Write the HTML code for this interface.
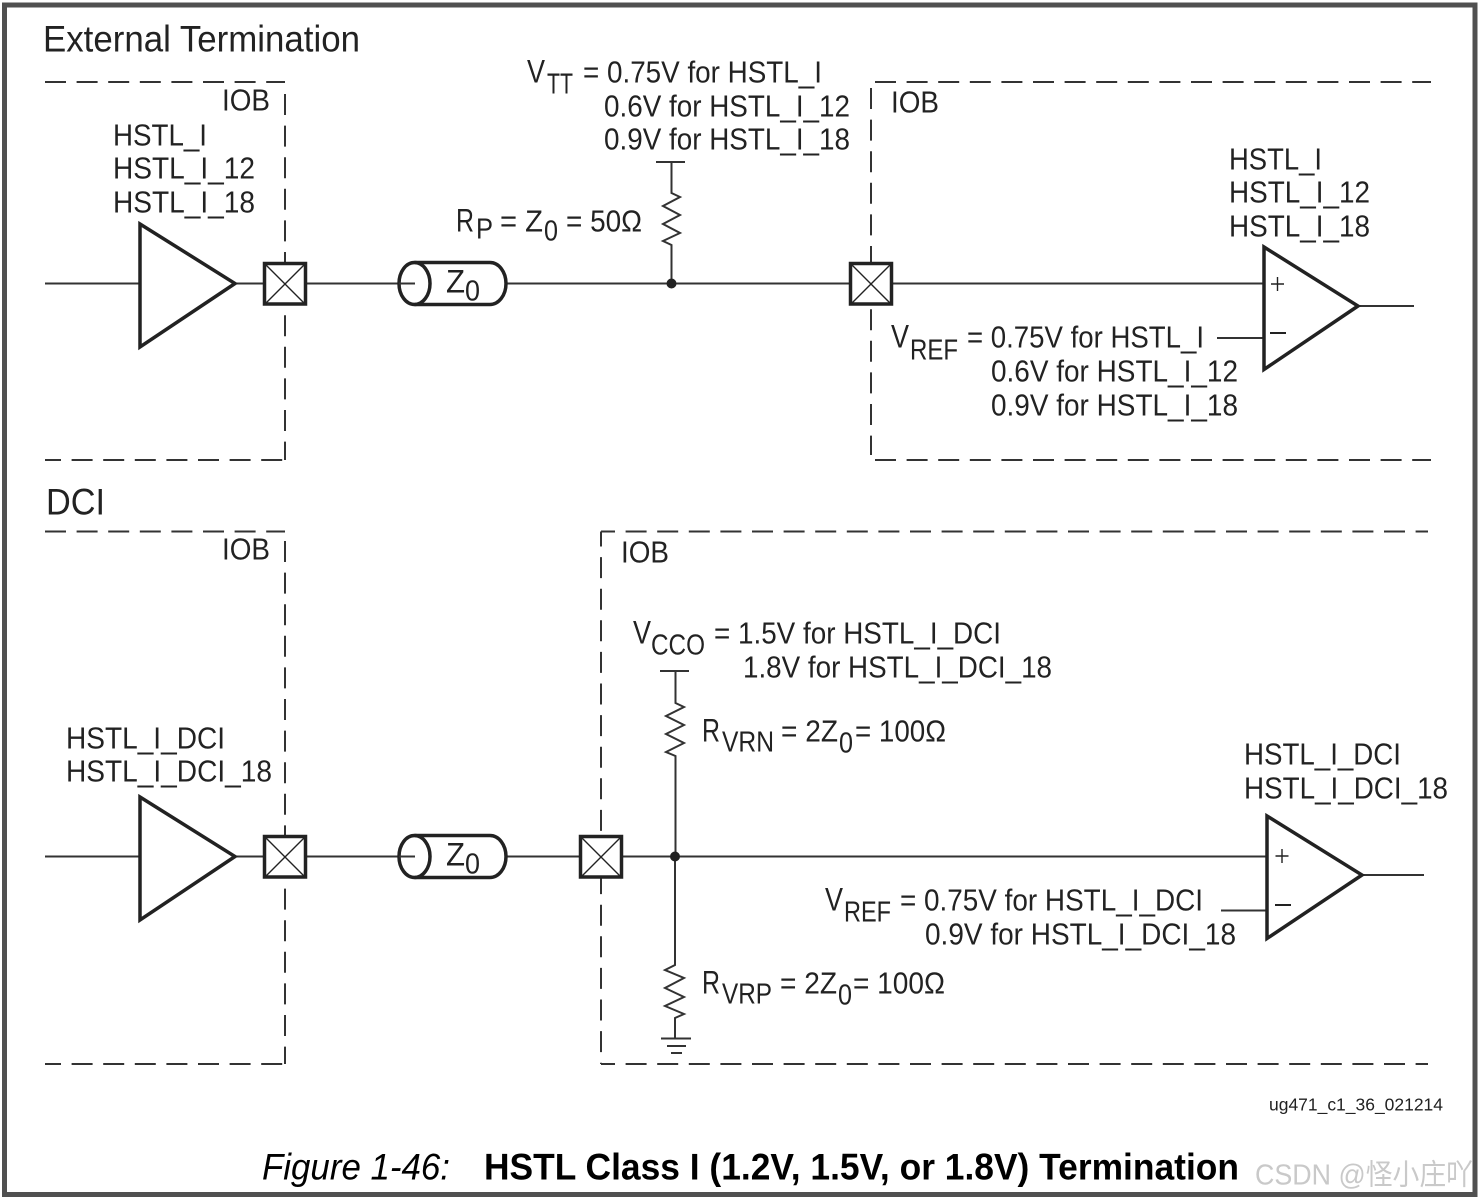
<!DOCTYPE html>
<html>
<head>
<meta charset="utf-8">
<style>
html,body{margin:0;padding:0;background:#fff;width:1480px;height:1200px;overflow:hidden}
svg{display:block}
text{font-family:"Liberation Sans","Noto Sans CJK SC",sans-serif;fill:#222;font-size:30.5px}
.s{font-size:28.5px}
.b2{font-size:32px}
.h{font-size:37.5px}
.w{fill:none;stroke:#333;stroke-width:2}
.t{fill:none;stroke:#222;stroke-width:3.5;stroke-linejoin:miter}
.d{fill:none;stroke:#333;stroke-width:2;stroke-dasharray:21 10.6}
.x{fill:none;stroke:#222;stroke-width:1.4}
.b{fill:#fff;stroke:#222;stroke-width:3.5}
</style>
</head>
<body>
<svg width="1480" height="1200" viewBox="0 0 1480 1200" xmlns="http://www.w3.org/2000/svg">
<rect x="4.500" y="5" width="1470.500" height="1189.500" fill="#fff" stroke="#505050" stroke-width="5"/>

<!-- Dashed boxes -->
<path class="d" d="M45 82H285"/>
<path class="d" d="M285 94V460"/>
<path class="d" d="M45 460H285" style="stroke-dashoffset:5"/>
<path class="d" d="M875 82H1431"/>
<path class="d" d="M871 88V455"/>
<path class="d" d="M875 460H1431"/>
<path class="d" d="M45 531.500H285"/>
<path class="d" d="M285 541V1064"/>
<path class="d" d="M45 1064H285" style="stroke-dashoffset:5"/>
<path class="d" d="M601 531.500H1428" style="stroke-dashoffset:7"/>
<path class="d" d="M601 531.500V1064" style="stroke-dashoffset:6"/>
<path class="d" d="M601 1064H1428" style="stroke-dashoffset:7"/>

<!-- External termination circuit -->
<path class="w" d="M45 283.500H140M235 283.500H264M306 283.500H415M506 283.500H850M892 283.500H1264M1358 306H1414M1217 338H1264"/>
<path class="t" d="M140 224L235 283.500L140 347Z"/>
<rect class="b" x="264.500" y="263.500" width="41" height="40.500"/>
<path class="x" d="M265 264L305 304M305 264L265 304"/>
<path d="M414.500 262.500H490A16 21 0 0 1 490 304.500H414.500" fill="none" stroke="#222" stroke-width="3.500"/>
<ellipse cx="414.500" cy="283.500" rx="15.500" ry="21" fill="none" stroke="#222" stroke-width="3.500"/>
<path class="w" d="M399 283.500H415"/>
<path class="w" d="M656 162H685M671.500 162V193L680 197L663 206L680 215L663 224L680 233L663 241L671.500 245V283"/>
<circle cx="671.500" cy="283.500" r="5" fill="#222"/>
<rect class="b" x="850.500" y="263.500" width="41" height="40.500"/>
<path class="x" d="M851 264L891 304M891 264L851 304"/>
<path class="t" d="M1264 247L1358 306L1264 369.500Z"/>
<path class="x" d="M1271 284H1284M1277.500 277V291"/>
<path d="M1270 333H1286" stroke="#222" stroke-width="2"/>

<!-- DCI circuit -->
<path class="w" d="M45 856.500H140M235 856.500H264M306 856.500H415M506 856.500H580M622 856.500H1267M1362 875H1424M1221 910.500H1267"/>
<path class="t" d="M140 797L235 856.500L140 920Z"/>
<rect class="b" x="264.500" y="836.500" width="41" height="40.500"/>
<path class="x" d="M265 837L305 877M305 837L265 877"/>
<path d="M414.500 835.500H490A16 21 0 0 1 490 877.500H414.500" fill="none" stroke="#222" stroke-width="3.500"/>
<ellipse cx="414.500" cy="856.500" rx="15.500" ry="21" fill="none" stroke="#222" stroke-width="3.500"/>
<path class="w" d="M399 856.500H415"/>
<rect class="b" x="580.500" y="836.500" width="41" height="40.500"/>
<path class="x" d="M581 837L621 877M621 837L581 877"/>
<path class="w" d="M660 671H689M675.500 671V703L684 707L666 716L684 725L666 734L684 743L666 752L675.500 756V856"/>
<path class="w" d="M675 856V965L665 970L684 978L665 988L684 997L665 1006L684 1014L675 1018V1038"/>
<path class="w" d="M661 1038.500H691M667 1046H686M671 1053H682"/>
<circle cx="675" cy="856.500" r="5" fill="#222"/>
<path class="t" d="M1267 816L1362 875L1267 938.500Z"/>
<path class="x" d="M1275.500 856H1288.500M1282 849V863"/>
<path d="M1275 905H1291" stroke="#222" stroke-width="2"/>

<g transform="translate(0,0.6)">
<!-- Headings -->
<text class="h" x="43" y="51" textLength="317" lengthAdjust="spacingAndGlyphs">External Termination</text>
<text class="h" x="46" y="514" textLength="59" lengthAdjust="spacingAndGlyphs">DCI</text>

<!-- IOB -->
<text x="222" y="110" textLength="48" lengthAdjust="spacingAndGlyphs">IOB</text>
<text x="891" y="112" textLength="48" lengthAdjust="spacingAndGlyphs">IOB</text>
<text x="222" y="559" textLength="48" lengthAdjust="spacingAndGlyphs">IOB</text>
<text x="621" y="562" textLength="48" lengthAdjust="spacingAndGlyphs">IOB</text>

<!-- Standards -->
<text x="113" y="145" textLength="94" lengthAdjust="spacingAndGlyphs">HSTL_I</text>
<text x="113" y="178" textLength="142" lengthAdjust="spacingAndGlyphs">HSTL_I_12</text>
<text x="113" y="212" textLength="142" lengthAdjust="spacingAndGlyphs">HSTL_I_18</text>
<text x="1229" y="169" textLength="93" lengthAdjust="spacingAndGlyphs">HSTL_I</text>
<text x="1229" y="202" textLength="141" lengthAdjust="spacingAndGlyphs">HSTL_I_12</text>
<text x="1229" y="236" textLength="141" lengthAdjust="spacingAndGlyphs">HSTL_I_18</text>
<text x="66" y="748" textLength="159" lengthAdjust="spacingAndGlyphs">HSTL_I_DCI</text>
<text x="66" y="781" textLength="206" lengthAdjust="spacingAndGlyphs">HSTL_I_DCI_18</text>
<text x="1244" y="764" textLength="157" lengthAdjust="spacingAndGlyphs">HSTL_I_DCI</text>
<text x="1244" y="798" textLength="204" lengthAdjust="spacingAndGlyphs">HSTL_I_DCI_18</text>

<!-- VTT -->
<text class="b2" x="527" y="82" textLength="18" lengthAdjust="spacingAndGlyphs">V</text>
<text class="s" x="547" y="93" textLength="26" lengthAdjust="spacingAndGlyphs">TT</text>
<text x="583" y="82" textLength="239" lengthAdjust="spacingAndGlyphs">= 0.75V for HSTL_I</text>
<text x="604" y="116" textLength="246" lengthAdjust="spacingAndGlyphs">0.6V for HSTL_I_12</text>
<text x="604" y="149" textLength="246" lengthAdjust="spacingAndGlyphs">0.9V for HSTL_I_18</text>

<!-- RP -->
<text class="b2" x="456" y="231" textLength="18" lengthAdjust="spacingAndGlyphs">R</text>
<text class="s" x="476" y="238" textLength="17" lengthAdjust="spacingAndGlyphs">P</text>
<text x="500" y="231" textLength="43" lengthAdjust="spacingAndGlyphs">= Z</text>
<text class="s" x="544" y="240" textLength="14" lengthAdjust="spacingAndGlyphs">0</text>
<text x="566" y="231" textLength="76" lengthAdjust="spacingAndGlyphs">= 50Ω</text>

<!-- Z0 -->
<text class="b2" x="446" y="292" textLength="19" lengthAdjust="spacingAndGlyphs">Z</text>
<text class="s" x="465" y="300" textLength="15" lengthAdjust="spacingAndGlyphs">0</text>
<text class="b2" x="446" y="865" textLength="19" lengthAdjust="spacingAndGlyphs">Z</text>
<text class="s" x="465" y="873" textLength="15" lengthAdjust="spacingAndGlyphs">0</text>

<!-- VREF top -->
<text class="b2" x="891" y="347" textLength="18" lengthAdjust="spacingAndGlyphs">V</text>
<text class="s" x="910" y="359" textLength="48" lengthAdjust="spacingAndGlyphs">REF</text>
<text x="967" y="347" textLength="237" lengthAdjust="spacingAndGlyphs">= 0.75V for HSTL_I</text>
<text x="991" y="381" textLength="247" lengthAdjust="spacingAndGlyphs">0.6V for HSTL_I_12</text>
<text x="991" y="415" textLength="247" lengthAdjust="spacingAndGlyphs">0.9V for HSTL_I_18</text>

<!-- VCCO -->
<text class="b2" x="633" y="643" textLength="18" lengthAdjust="spacingAndGlyphs">V</text>
<text class="s" x="651" y="654" textLength="54" lengthAdjust="spacingAndGlyphs">CCO</text>
<text x="714" y="643" textLength="287" lengthAdjust="spacingAndGlyphs">= 1.5V for HSTL_I_DCI</text>
<text x="743" y="677" textLength="309" lengthAdjust="spacingAndGlyphs">1.8V for HSTL_I_DCI_18</text>

<!-- RVRN -->
<text class="b2" x="702" y="741" textLength="18" lengthAdjust="spacingAndGlyphs">R</text>
<text class="s" x="722" y="751" textLength="52" lengthAdjust="spacingAndGlyphs">VRN</text>
<text x="781" y="741" textLength="57" lengthAdjust="spacingAndGlyphs">= 2Z</text>
<text class="s" x="839" y="752" textLength="14" lengthAdjust="spacingAndGlyphs">0</text>
<text x="855" y="741" textLength="91" lengthAdjust="spacingAndGlyphs">= 100Ω</text>

<!-- RVRP -->
<text class="b2" x="702" y="993" textLength="18" lengthAdjust="spacingAndGlyphs">R</text>
<text class="s" x="722" y="1003" textLength="50" lengthAdjust="spacingAndGlyphs">VRP</text>
<text x="780" y="993" textLength="57" lengthAdjust="spacingAndGlyphs">= 2Z</text>
<text class="s" x="838" y="1004" textLength="14" lengthAdjust="spacingAndGlyphs">0</text>
<text x="853" y="993" textLength="92" lengthAdjust="spacingAndGlyphs">= 100Ω</text>

<!-- VREF bottom -->
<text class="b2" x="825" y="910" textLength="18" lengthAdjust="spacingAndGlyphs">V</text>
<text class="s" x="844" y="921" textLength="47" lengthAdjust="spacingAndGlyphs">REF</text>
<text x="900" y="910" textLength="303" lengthAdjust="spacingAndGlyphs">= 0.75V for HSTL_I_DCI</text>
<text x="925" y="944" textLength="311" lengthAdjust="spacingAndGlyphs">0.9V for HSTL_I_DCI_18</text>

<!-- Footer -->
<text x="1269" y="1110" style="font-size:17.500px" textLength="174" lengthAdjust="spacingAndGlyphs">ug471_c1_36_021214</text>
<text x="262" y="1179" style="font-size:37px;font-style:italic;fill:#000" textLength="188" lengthAdjust="spacingAndGlyphs">Figure 1-46:</text>
<text x="484" y="1179" style="font-size:37px;font-weight:bold;fill:#000" textLength="755" lengthAdjust="spacingAndGlyphs">HSTL Class I (1.2V, 1.5V, or 1.8V) Termination</text>
<text x="1255" y="1184" style="font-size:29px;fill:#c9c9c9" textLength="218" lengthAdjust="spacingAndGlyphs">CSDN @怪小庄吖</text>
</g>
</svg>
</body>
</html>
